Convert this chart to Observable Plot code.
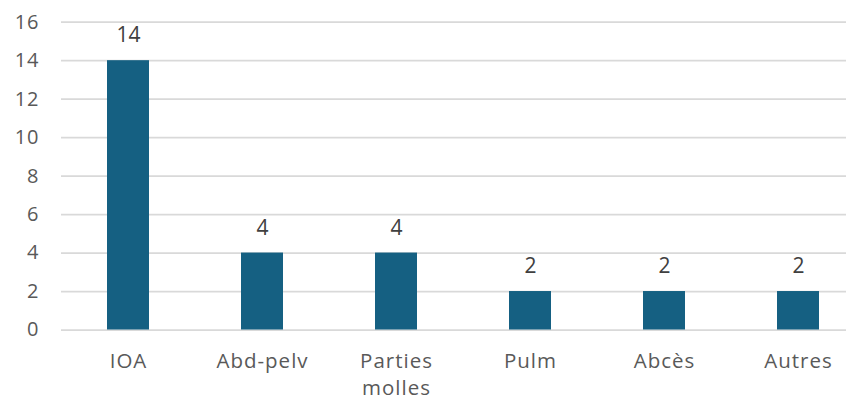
<!DOCTYPE html>
<html>
<head>
<meta charset="utf-8">
<script src="https://cdn.jsdelivr.net/npm/d3@7"></script>
<script src="https://cdn.jsdelivr.net/npm/@observablehq/plot@0.6"></script>
<style>
  html, body { margin: 0; padding: 0; background: #fff; }
  #chart svg { display: block; }
  #chart .xlab text { letter-spacing: 1px; }
  #chart g.ylab, #chart g.ylab text { font-size: 20px !important; letter-spacing: 1px; }
</style>
</head>
<body>
<div id="chart"></div>
<script>
const categories = ["IOA", "Abd-pelv", "Parties molles", "Pulm", "Abcès", "Autres"];
const values = [14, 4, 4, 2, 2, 2];
const yTicks = [0, 2, 4, 6, 8, 10, 12, 14, 16];

const data = categories.map((c, i) => ({cat: c, value: values[i]}));
const font = "'Open Sans', sans-serif";

const chart = Plot.plot({
  width: 846,
  height: 401,
  marginTop: 21.7,
  marginBottom: 71.5,
  marginLeft: 61,
  marginRight: -19,
  style: {fontFamily: font, background: "#fff", overflow: "hidden"},
  x: {domain: categories, paddingInner: 0.687, paddingOuter: 0.3435, align: 0.5, label: null},
  y: {domain: [0, 16], ticks: yTicks, label: null},
  marks: [
    Plot.ruleY(yTicks, {stroke: "#d9d9d9", strokeWidth: 1.75}),
    Plot.barY(data, {x: "cat", y: "value", fill: "#156082"}),
    Plot.text(data, {x: "cat", y: "value", text: d => String(d.value), dy: -25, fontSize: 21, fill: "#404040", lineAnchor: "middle"}),
    Plot.axisY({ticks: yTicks, tickSize: 0, tickPadding: 22, fontSize: 20, color: "#595959", label: null, className: "ylab"}),
    Plot.axisX({tickSize: 0, tickPadding: 18, fontSize: 20.5, color: "#595959", label: null, lineHeight: 1.35, className: "xlab", tickFormat: d => d.replace(" ", "\n")})
  ]
});
document.getElementById("chart").appendChild(chart);
</script>
</body>
</html>
